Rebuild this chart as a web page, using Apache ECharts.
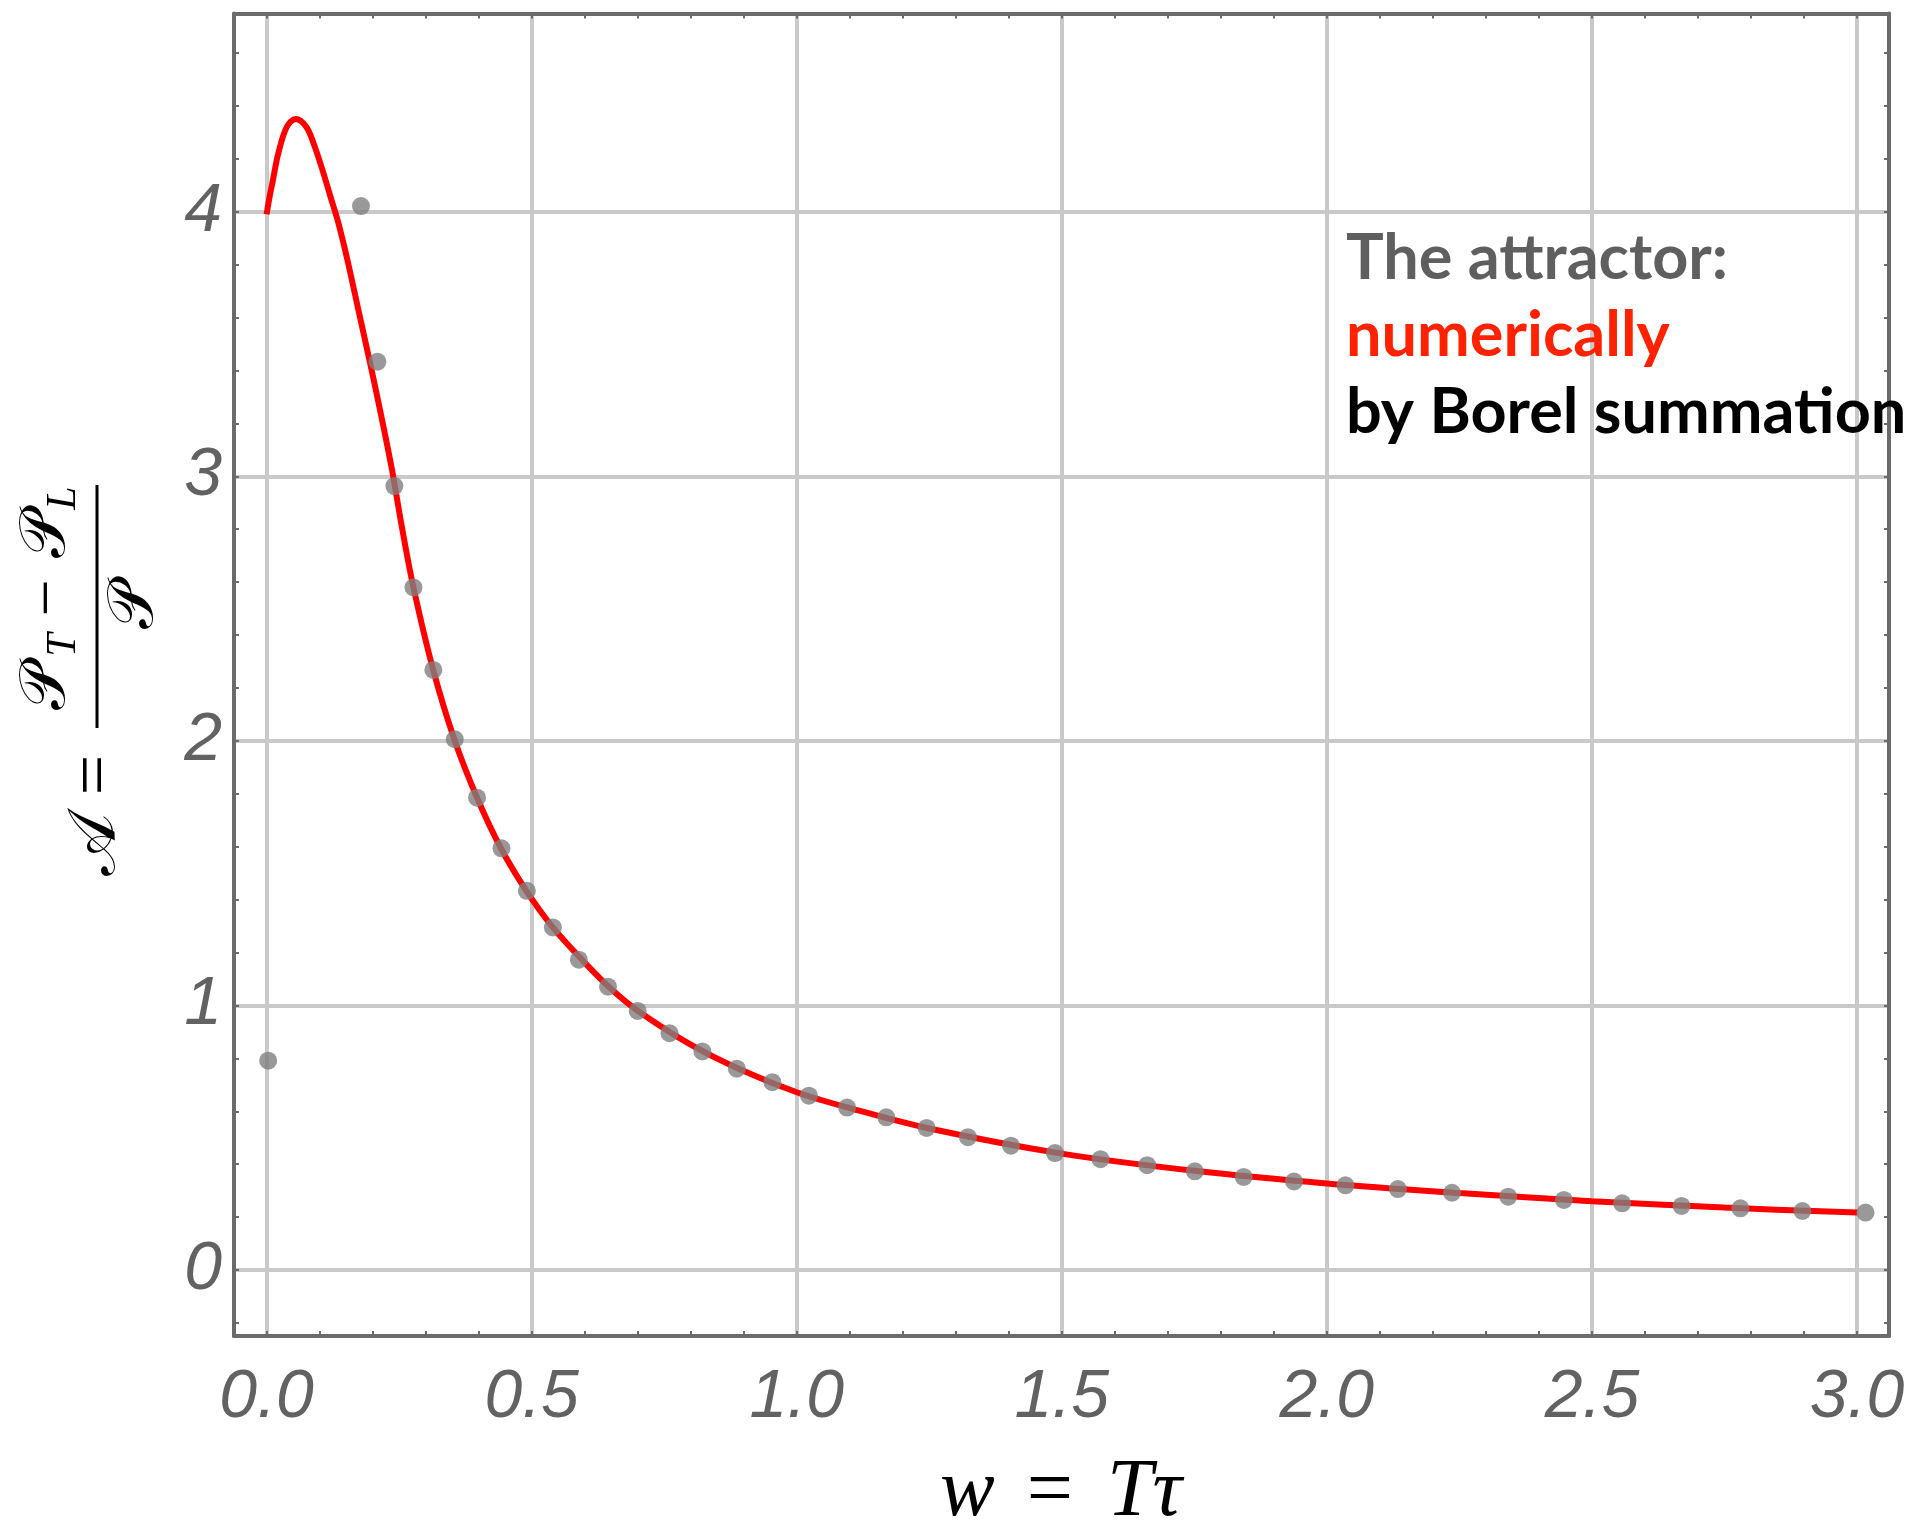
<!DOCTYPE html>
<html><head><meta charset="utf-8">
<script src="https://cdn.jsdelivr.net/npm/echarts@6/dist/echarts.min.js"></script>
<style>html,body{margin:0;padding:0;background:#fff}#c{width:1919px;height:1525px}</style>
</head><body><div id="c"></div>
<script>
// ---- data ----
const xTickLabels = [0, 0.5, 1, 1.5, 2, 2.5, 3];
const yTickLabels = [0, 1, 2, 3, 4];
const xMinorTicks = [0, 0.1, 0.2, 0.3, 0.4, 0.5, 0.6, 0.7, 0.8, 0.9, 1.0, 1.1, 1.2, 1.3, 1.4, 1.5, 1.6, 1.7, 1.8, 1.9, 2.0, 2.1, 2.2, 2.3, 2.4, 2.5, 2.6, 2.7, 2.8, 2.9, 3.0];
const yMinorTicks = [-0.2, 0, 0.2, 0.4, 0.6, 0.8, 1.0, 1.2, 1.4, 1.6, 1.8, 2.0, 2.2, 2.4, 2.6, 2.8, 3.0, 3.2, 3.4, 3.6, 3.8, 4.0, 4.2, 4.4, 4.6];

// red curve: "numerically"
const numericalCurve = [
  [0.000, 3.99], [0.006, 4.06], [0.012, 4.12], [0.022, 4.22], [0.038, 4.32], [0.055, 4.35],
  [0.075, 4.32], [0.090, 4.25], [0.105, 4.16], [0.120, 4.06], [0.135, 3.96], [0.151, 3.83],
  [0.173, 3.63], [0.195, 3.43], [0.214, 3.25], [0.236, 3.03], [0.255, 2.81], [0.277, 2.58],
  [0.314, 2.27], [0.355, 2.00], [0.397, 1.785], [0.442, 1.594], [0.490, 1.433],
  [0.540, 1.295], [0.600, 1.162], [0.650, 1.062], [0.700, 0.980], [0.800, 0.852], [0.900, 0.752],
  [1.000, 0.672], [1.100, 0.612], [1.250, 0.535], [1.500, 0.440], [1.750, 0.375],
  [2.000, 0.327], [2.250, 0.291], [2.500, 0.260], [2.750, 0.236], [3.000, 0.217]
];

// gray dots: "by Borel summation"
const borelPoints = [
  [0.003, 0.791], [0.178, 4.021], [0.209, 3.433], [0.241, 2.963], [0.277, 2.580],
  [0.3145, 2.268], [0.355, 2.006], [0.397, 1.785], [0.443, 1.594], [0.491, 1.433],
  [0.540, 1.295], [0.589, 1.173], [0.644, 1.071], [0.700, 0.979], [0.760, 0.895],
  [0.822, 0.826], [0.887, 0.761], [0.954, 0.710], [1.023, 0.659], [1.095, 0.614],
  [1.169, 0.577], [1.245, 0.537], [1.323, 0.502], [1.404, 0.470], [1.487, 0.442],
  [1.573, 0.419], [1.661, 0.396], [1.751, 0.373], [1.843, 0.352], [1.938, 0.335],
  [2.035, 0.320], [2.134, 0.306], [2.236, 0.292], [2.342, 0.277], [2.447, 0.265],
  [2.557, 0.252], [2.669, 0.242], [2.780, 0.233], [2.897, 0.223], [3.016, 0.217]
];

const legendLines = ['The attractor:', 'numerically', 'by Borel summation'];
const xTitle = '{i|w}{s|=}{i|T}{i|τ}';

// ---- chart ----
const X_MIN = -0.0615, X_MAX = 3.0603, Y_MIN = -0.2494, Y_MAX = 4.749;
const FRAME = '#6b6b6b', GRIDC = '#c9c9c9', LABELC = '#626262';
const labelFont = { fontSize: 68, fontStyle: 'italic', fontFamily: 'Liberation Sans', color: LABELC };

function frameAxis(pos, ticks, labelVals, isX) {
  return {
    type: 'value', position: pos, min: isX ? X_MIN : Y_MIN, max: isX ? X_MAX : Y_MAX,
    axisLine: { show: true, onZero: false, lineStyle: { color: FRAME, width: 4 } },
    axisTick: { show: true, inside: true, length: 5, customValues: ticks, lineStyle: { color: FRAME, width: 2 } },
    axisLabel: labelVals ? Object.assign({ show: true, customValues: labelVals, margin: isX ? 28 : 12,
      formatter: v => isX ? Number(v).toFixed(1) : String(Math.round(v)) }, labelFont) : { show: false },
    splitLine: { show: false }
  };
}
function gridAxis(pos, vals, isX) {
  return {
    type: 'value', position: pos, min: isX ? X_MIN : Y_MIN, max: isX ? X_MAX : Y_MAX,
    axisLine: { show: false, onZero: false }, axisLabel: { show: false },
    axisTick: { show: false, customValues: vals },
    splitLine: { show: true, customValues: vals, lineStyle: { color: GRIDC, width: 4 } }
  };
}

const chart = echarts.init(document.getElementById('c'), null, { renderer: 'canvas' });
const legendFont = { fontFamily: 'Lato', fontWeight: 'bold', fontSize: 63 };
const legendColors = ['#5f5f5f', '#ff2200', '#000000'];
const legendBaselines = [280, 357, 434];

chart.setOption({
  animation: false,
  backgroundColor: '#ffffff',
  grid: { left: 234, top: 13.5, right: 30, bottom: 189, containLabel: false },
  xAxis: [
    frameAxis('bottom', xMinorTicks, xTickLabels, true),
    frameAxis('top', xMinorTicks, null, true),
    gridAxis('bottom', xTickLabels, true)
  ],
  yAxis: [
    frameAxis('left', yMinorTicks, yTickLabels, false),
    frameAxis('right', yMinorTicks, null, false),
    gridAxis('left', yTickLabels, false)
  ],
  series: [
    { name: 'numerically', type: 'line', xAxisIndex: 0, yAxisIndex: 0, data: numericalCurve,
      smooth: 0.35, showSymbol: false, z: 3,
      lineStyle: { color: '#ff0000', width: 6 } },
    { name: 'by Borel summation', type: 'scatter', xAxisIndex: 0, yAxisIndex: 0, data: borelPoints,
      symbolSize: 18, z: 4, itemStyle: { color: '#7f7f7f' } }
  ],
  graphic: [
    ...legendLines.map((t, i) => ({
      type: 'text', z: 10,
      style: Object.assign({ text: t, x: 1346, y: legendBaselines[i] - 21, fill: legendColors[i],
        align: 'left', verticalAlign: 'middle' }, legendFont)
    })),
    { type: 'text', z: 10,
      style: { text: xTitle, x: 1061, y: 1493, align: 'center', verticalAlign: 'middle',
        fontFamily: 'Liberation Serif', fontSize: 82, fill: '#000',
        rich: { i: { fontFamily: 'Liberation Serif', fontStyle: 'italic', fontSize: 82, fill: '#000' },
                s: { fontFamily: 'Liberation Serif', fontSize: 82, fill: '#000', padding: [0, 34, 0, 32] } } } },
    { type: 'group', x: 97, y: 678, rotation: Math.PI / 2, z: 10,
      children: [
        { type: 'text', style: { text: '𝒜', x: -167, y: 0, align: 'center', verticalAlign: 'middle', fontFamily: 'DejaVu Serif', fontSize: 66, fill: '#000' } },
        { type: 'text', style: { text: '=', x: -97, y: 0, align: 'center', verticalAlign: 'middle', fontFamily: 'Liberation Serif', fontSize: 72, fill: '#000' } },
        { type: 'line', shape: { x1: -50, y1: 0, x2: 193, y2: 0 }, style: { stroke: '#000', lineWidth: 3 } },
        { type: 'text', style: { text: '𝒫', x: -9, y: -50, align: 'center', verticalAlign: 'middle', fontFamily: 'DejaVu Serif', fontSize: 64, fill: '#000' } },
        { type: 'text', style: { text: 'T', x: 33, y: -33, align: 'center', verticalAlign: 'middle', fontFamily: 'Liberation Serif', fontStyle: 'italic', fontSize: 42, fill: '#000' } },
        { type: 'text', style: { text: '−', x: 80, y: -47, align: 'center', verticalAlign: 'middle', fontFamily: 'Liberation Serif', fontSize: 66, fill: '#000' } },
        { type: 'text', style: { text: '𝒫', x: 143, y: -50, align: 'center', verticalAlign: 'middle', fontFamily: 'DejaVu Serif', fontSize: 64, fill: '#000' } },
        { type: 'text', style: { text: 'L', x: 180, y: -33, align: 'center', verticalAlign: 'middle', fontFamily: 'Liberation Serif', fontStyle: 'italic', fontSize: 42, fill: '#000' } },
        { type: 'text', style: { text: '𝒫', x: 72, y: 38, align: 'center', verticalAlign: 'middle', fontFamily: 'DejaVu Serif', fontSize: 64, fill: '#000' } }
      ] }
  ]
});
</script></body></html>
